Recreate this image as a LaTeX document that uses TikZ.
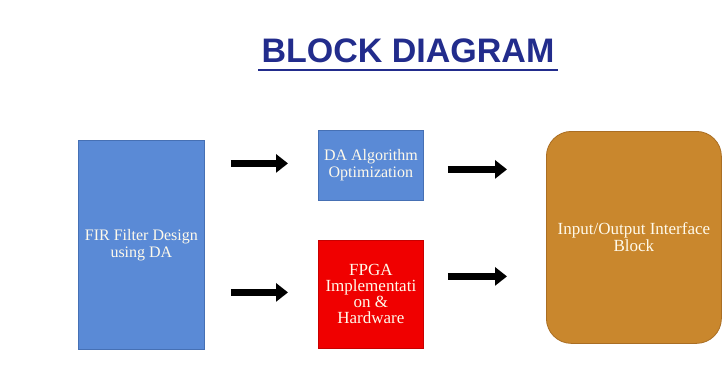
\documentclass[tikz,border=0pt]{standalone}
\usepackage{fontspec}
\setmainfont{Liberation Serif}
\newfontfamily\titlefont{Liberation Sans}
\usetikzlibrary{arrows.meta,calc}
\definecolor{boxblue}{RGB}{90,138,214}
\definecolor{boxblueedge}{RGB}{70,112,180}
\definecolor{boxred}{RGB}{240,0,0}
\definecolor{boxrededge}{RGB}{200,0,0}
\definecolor{boxgold}{RGB}{201,135,45}
\definecolor{boxgoldedge}{RGB}{170,110,35}
\definecolor{titleblue}{RGB}{34,44,140}
\definecolor{boxtext}{RGB}{255,250,235}
\tikzset{
  blockbox/.style={draw, line width=0.8pt, inner sep=0pt, anchor=north west,
    align=center, text=boxtext, font=\fontsize{16}{17}\selectfont},
  bigarrow/.style={line width=7pt, -{Triangle[length=12pt,width=18pt]}}
}
\begin{document}
\begin{tikzpicture}[x=1pt,y=-1pt]
\useasboundingbox (0,0) rectangle (722,383);
\fill[white] (0,0) rectangle (722,383);
% title
\node[font=\titlefont\bfseries\fontsize{34}{36}\selectfont, text=titleblue, inner sep=0pt] (title) at (408,51) {BLOCK DIAGRAM};
\coordinate (ulA) at (258,70);
\coordinate (ulB) at (558,70);
\draw[titleblue, line width=2pt] (ulA) -- (ulB);
% boxes
\node[blockbox, fill=boxblue, draw=boxblueedge, minimum width=126pt, minimum height=209pt] (fir) at (78,140) {FIR Filter Design\\using DA};
\node[blockbox, fill=boxblue, draw=boxblueedge, minimum width=105pt, minimum height=70pt] (da) at (318,130) {DA Algorithm\\Optimization};
\node[blockbox, fill=boxred, draw=boxrededge, minimum width=105pt, minimum height=108pt, font=\fontsize{17}{16}\selectfont] (fpga) at (318,240) {FPGA\\Implementati\\on \&\\Hardware};
\node[blockbox, fill=boxgold, draw=boxgoldedge, rounded corners=25pt, minimum width=175pt, minimum height=212pt, font=\fontsize{17}{17}\selectfont] (io) at (546,131) {Input/Output Interface\\Block};
% arrows
\draw[bigarrow, shorten <=26pt, shorten >=30pt] ([yshift=2pt]fir.east |- da.west) -- ([yshift=2pt]da.west);
\draw[bigarrow, shorten <=26pt, shorten >=30pt] ([yshift=2pt]fir.east |- fpga.west) -- ([yshift=2pt]fpga.west);
\draw[bigarrow, shorten <=24pt, shorten >=39pt] ([yshift=-4pt]da.east) -- ([yshift=-4pt]da.east -| io.west);
\draw[bigarrow, shorten <=24pt, shorten >=39pt] ([yshift=18pt]fpga.east) -- ([yshift=18pt]fpga.east -| io.west);
\end{tikzpicture}
\end{document}
